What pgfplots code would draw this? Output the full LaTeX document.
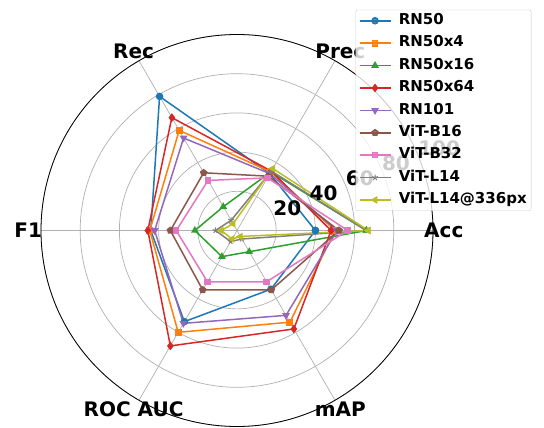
\documentclass[border=0pt]{standalone}
\usepackage{fontspec}
\setmainfont{DejaVu Sans}
\usepackage{pgfplots}
\pgfplotsset{compat=1.18}
\usepgfplotslibrary{polar}
\definecolor{c0}{HTML}{1F77B4}
\definecolor{c1}{HTML}{FF7F0E}
\definecolor{c2}{HTML}{2CA02C}
\definecolor{c3}{HTML}{D62728}
\definecolor{c4}{HTML}{9467BD}
\definecolor{c5}{HTML}{8C564B}
\definecolor{c6}{HTML}{E377C2}
\definecolor{c7}{HTML}{7F7F7F}
\definecolor{c8}{HTML}{BCBD22}
\definecolor{gridgray}{HTML}{B0B0B0}
\definecolor{leggray}{HTML}{CCCCCC}
\tikzset{rlab/.style={anchor=south west, inner sep=0pt, font=\fontsize{20}{24}\selectfont\bfseries},
  alab/.style={font=\fontsize{20}{24}\selectfont\bfseries}}
\begin{document}
\begin{tikzpicture}
\path[use as bounding box] (0,0) rectangle (544pt,428pt);
\begin{polaraxis}[
  at={(237pt,197.5pt)}, anchor=center,
  width=392pt, height=392pt, scale only axis,
  xmin=0, xmax=360, ymin=0, ymax=100,
  xtick={0,60,120,180,240,300}, xticklabels={},
  ytick={20,40,60,80,100}, yticklabels={},
  grid=major, major grid style={color=gridgray, line width=0.7pt},
  major tick length=0pt,
  separate axis lines,
  x axis line style={black, line width=0.8pt},
  y axis line style={draw=none},
  clip=false,
  every axis plot/.append style={line width=1.5pt, mark size=3pt},
  legend cell align=left,
  legend style={at={(1.251,1.063)}, anchor=north east,
    font=\fontsize{15}{18}\selectfont\bfseries,
    draw=leggray, rounded corners=2pt, fill=white, fill opacity=0.8,
    draw opacity=1, text opacity=1, row sep=4.9pt,
    nodes={inner sep=1.5pt, text height=11pt, text depth=3.5pt}},
  legend image code/.code={\draw[mark repeat=2,mark phase=2] plot coordinates {(0pt,0pt) (15.5pt,0pt) (31pt,0pt)};
    \path (37pt,0pt);},
]
\addplot[c0, mark=*] coordinates {(0,40) (60,33.5) (120,79) (180,44) (240,53.7) (300,34.6) (360,40)};
\addlegendentry{RN50}
\addplot[c1, mark=square*, mark size=2.7pt] coordinates {(0,50) (60,34.5) (120,59) (180,44.5) (240,60) (300,54) (360,50)};
\addlegendentry{RN50x4}
\addplot[c2, mark=triangle*] coordinates {(0,66) (60,34.5) (120,14) (180,21.5) (240,15.4) (300,12.5) (360,66)};
\addlegendentry{RN50x16}
\addplot[c3, mark=diamond*, mark size=3.2pt] coordinates {(0,48) (60,35) (120,66.5) (180,45.5) (240,68) (300,58) (360,48)};
\addlegendentry{RN50x64}
\addplot[c4, mark=triangle*, mark options={rotate=180}] coordinates {(0,51) (60,33.5) (120,54.5) (180,42) (240,54.7) (300,50) (360,51)};
\addlegendentry{RN101}
\addplot[c5, mark=pentagon*] coordinates {(0,52) (60,32) (120,34) (180,34) (240,35) (300,35) (360,52)};
\addlegendentry{ViT-B16}
\addplot[c6, mark=square*, mark size=2.5pt] coordinates {(0,56.5) (60,31) (120,29.5) (180,31) (240,30.2) (300,30.2) (360,56.5)};
\addlegendentry{ViT-B32}
\addplot[c7, mark=star, mark options={line width=1pt}] coordinates {(0,66) (60,35) (120,6) (180,11) (240,6.5) (300,5) (360,66)};
\addlegendentry{ViT-L14}
\addplot[c8, mark=triangle*, mark options={rotate=90}] coordinates {(0,67) (60,36.5) (120,4) (180,8) (240,5) (300,3.5) (360,67)};
\addlegendentry{ViT-L14@336px}
\node[rlab] at (axis cs:22.5,20) {20};
\node[rlab] at (axis cs:22.5,40) {40};
\node[rlab] at (axis cs:22.5,60) {60};
\node[rlab] at (axis cs:22.5,80) {80};
\node[rlab] at (axis cs:22.5,100) {100};
\node[alab] at (axis cs:0,105.5) {Acc};
\node[alab] at (axis cs:60,105.5) {Prec};
\node[alab] at (axis cs:120,105.5) {Rec};
\node[alab] at (axis cs:180,106.5) {F1};
\node[alab] at (axis cs:240,105.5) {ROC AUC};
\node[alab] at (axis cs:300,105.5) {mAP};
\end{polaraxis}
\end{tikzpicture}
\end{document}
